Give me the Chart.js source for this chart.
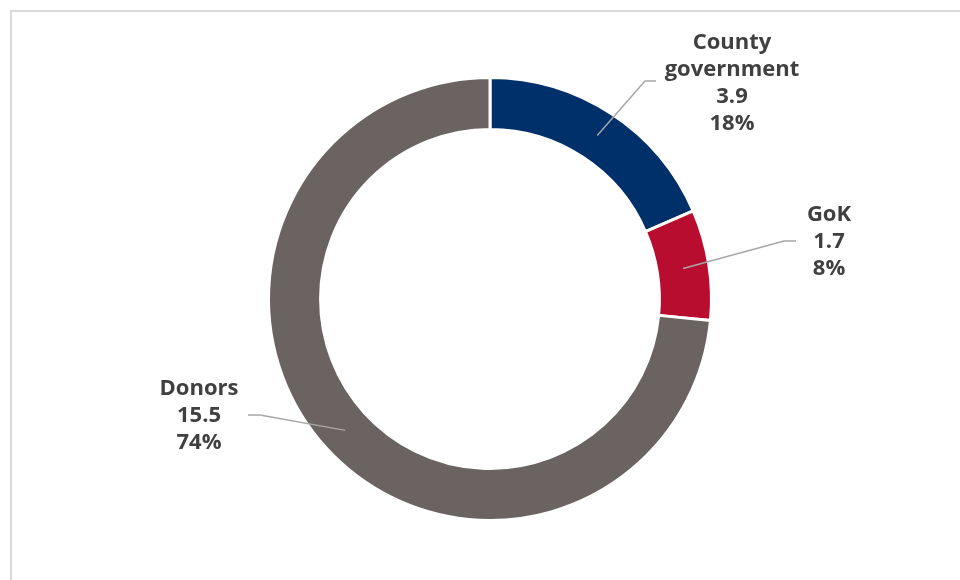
<!DOCTYPE html>
<html>
<head>
<meta charset="utf-8">
<script src="https://cdn.jsdelivr.net/npm/chart.js@4.4.0/dist/chart.umd.min.js"></script>
<style>
  html, body { margin: 0; padding: 0; background: #fff; }
  #wrap { position: relative; width: 960px; height: 580px; overflow: hidden; }
  #frame { position: absolute; left: 10px; top: 10px; width: 980px; height: 600px;
           border-left: 2px solid #d9d9d9; border-top: 2px solid #d9d9d9; }
  canvas { position: absolute; left: 0; top: 0; }
</style>
</head>
<body>
<div id="wrap">
  <div id="frame"></div>
  <canvas id="canvas" width="960" height="580"></canvas>
</div>
<script>
document.addEventListener('DOMContentLoaded', e=>{
const categories = ['County government', 'GoK', 'Donors']
const amounts = [3.9, 1.7, 15.5]
const percentLabels = ['18%', '8%', '74%']
const sliceColors = ['#00306a', '#b90d30', '#6a6361']

// where each label sits: text centre x, first line y, leader elbow and end
const labelLayout = [
    {x: 732, y: 43, lines: ['County', 'government'], elbow: [645, 81], end: [656, 81]},
    {x: 829, y: 215, lines: ['GoK'], elbow: [784, 241], end: [796, 241]},
    {x: 199, y: 389, lines: ['Donors'], elbow: [260, 415], end: [248, 415]}
]

const calloutLabels = {
    id: 'calloutLabels',
    afterDraw(chart) {
        const ctx = chart.ctx
        const arcs = chart.getDatasetMeta(0).data
        arcs.forEach((arc, i) => {
            const lay = labelLayout[i]
            const p = arc.tooltipPosition()
            ctx.save()
            ctx.strokeStyle = '#a6a6a6'
            ctx.lineWidth = 1.5
            ctx.beginPath()
            ctx.moveTo(p.x, p.y)
            ctx.lineTo(lay.elbow[0], lay.elbow[1])
            ctx.lineTo(lay.end[0], lay.end[1])
            ctx.stroke()
            ctx.fillStyle = '#404040'
            ctx.font = 'bold 22px "Open Sans"'
            ctx.textAlign = 'center'
            ctx.textBaseline = 'middle'
            const lines = lay.lines.concat([String(amounts[i]), percentLabels[i]])
            lines.forEach((t, k) => ctx.fillText(t, lay.x, lay.y + k * 27))
            ctx.restore()
        })
    }
}

let context = document.getElementById('canvas').getContext('2d')

new Chart(context, {
    type: 'doughnut',
    data: {
        labels: categories,
        datasets: [{
            data: amounts,
            backgroundColor: sliceColors,
            borderColor: '#ffffff',
            borderWidth: 3,
            hoverOffset: 0
        }]
    },
    options: {
        responsive: false,
        animation: false,
        cutout: '76.5%',
        layout: {
            padding: {top: 76, bottom: 58, left: 267, right: 247}
        },
        plugins: {
            legend: {display: false},
            tooltip: {enabled: false}
        }
    },
    plugins: [calloutLabels]
})
})
</script>
</body>
</html>
